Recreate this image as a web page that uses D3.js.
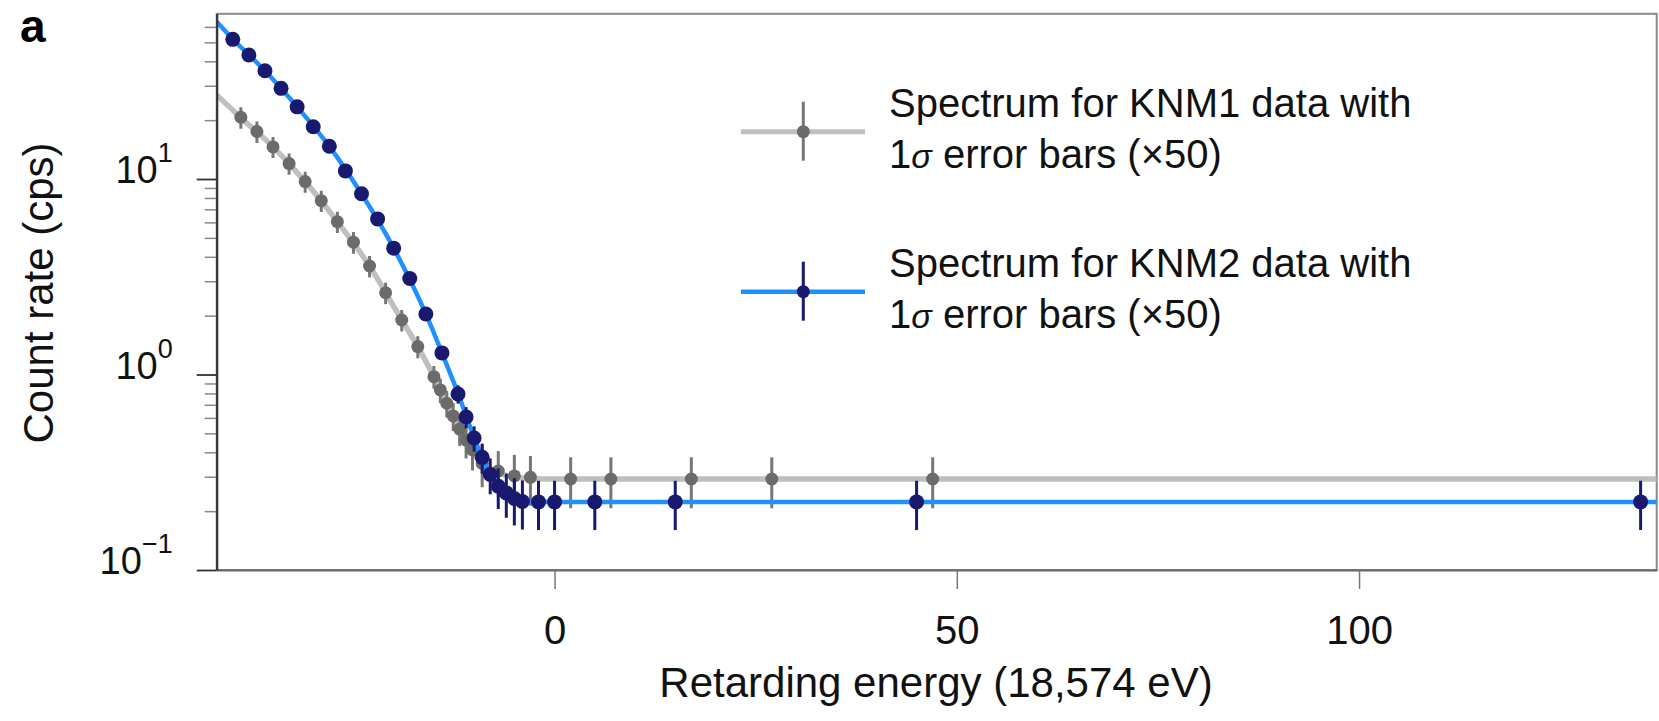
<!DOCTYPE html>
<html>
<head>
<meta charset="utf-8">
<script src="https://cdn.jsdelivr.net/npm/d3@7/dist/d3.min.js"></script>
<style>
  body { margin: 0; background: #fff; }
  svg { display: block; font-family: "Liberation Sans", Arial, Helvetica, sans-serif; }
</style>
</head>
<body>
<div id="ma-figure"></div>
<script>
// --- DONNÉES ---
// KNM1 : énergie de retardement (eV relatif à 18 574 eV), taux (cps), erreur 1 sigma
const knm1Energie = [-39, -37, -35, -33, -31, -29, -27, -25, -23, -21, -19, -17, -15, -14.2, -13.4, -12.6, -11.8, -11, -10.2, -9, -7, -5, -3, 2, 7, 17, 27, 47];
const knm1Taux = [20.7, 17.5, 14.6, 12.0, 9.7, 7.75, 6.05, 4.75, 3.59, 2.62, 1.90, 1.39, 0.975, 0.834, 0.713, 0.614, 0.526, 0.462, 0.411, 0.351, 0.321, 0.303, 0.298, 0.292, 0.292, 0.292, 0.292, 0.292];
const knm1Erreur = [2.6, 2.2, 1.8, 1.5, 1.2, 0.97, 0.76, 0.6, 0.45, 0.33, 0.24, 0.18, 0.13, 0.12, 0.11, 0.1, 0.095, 0.09, 0.088, 0.086, 0.085, 0.085, 0.085, 0.085, 0.085, 0.085, 0.085, 0.085];

// KNM2
const knm2Energie = [-40, -38, -36, -34, -32, -30, -28, -26, -24, -22, -20, -18, -16, -14, -12, -11, -10, -9, -8, -7, -6, -5, -4, -2, 0, 5, 15, 45, 135];
const knm2Taux = [51.8, 43.1, 35.8, 29.1, 23.4, 18.5, 14.7, 11.0, 8.4, 6.25, 4.43, 3.10, 2.04, 1.29, 0.795, 0.606, 0.473, 0.377, 0.308, 0.268, 0.248, 0.232, 0.224, 0.223, 0.223, 0.223, 0.223, 0.223, 0.223];
const knm2Erreur = [1.2, 1.0, 0.85, 0.7, 0.6, 0.5, 0.42, 0.35, 0.3, 0.24, 0.19, 0.15, 0.12, 0.1, 0.085, 0.075, 0.07, 0.066, 0.064, 0.063, 0.063, 0.063, 0.063, 0.063, 0.063, 0.063, 0.063, 0.063, 0.063];

// courbes d'ajustement
const fit1Energie = [-42, -39, -35, -31, -27, -23, -19, -17, -15, -13, -11, -9, -7, -5, -3, 0, 137];
const fit1Taux = [26.9, 20.6, 14.6, 9.7, 6.05, 3.59, 1.90, 1.39, 0.975, 0.66, 0.462, 0.35, 0.315, 0.298, 0.294, 0.292, 0.292];
const fit2Energie = [-42, -40, -36, -32, -28, -24, -20, -16, -14, -12, -10, -8, -6, -4, 0, 137];
const fit2Taux = [63.8, 52.0, 35.8, 23.4, 14.7, 8.4, 4.43, 2.04, 1.29, 0.80, 0.475, 0.305, 0.24, 0.224, 0.223, 0.223];

// graduations
const xTicks = [0, 50, 100];
const yMajeurs = [0.1, 1, 10];
const yExposants = ["\u22121", "0", "1"];
const yMineurs = [0.2, 0.3, 0.4, 0.5, 0.6, 0.7, 0.8, 0.9, 2, 3, 4, 5, 6, 7, 8, 9, 20, 30, 40, 50, 60];

const legendeLignes = [
  ["Spectrum for KNM1 data with", "error bars (\u00d750)"],
  ["Spectrum for KNM2 data with", "error bars (\u00d750)"]
];

// --- CONFIGURATION ---
const largeur = 1659;
const hauteur = 721;
const gauche = 216.7, droite = 1656.7, haut = 13.8, bas = 570;

const couleurs = {
  grisPoint: "#6b6b6b", grisLigne: "#bfbfbf", grisBarre: "#777",
  bleuPoint: "#191970", bleuLigne: "#1e90ff"
};

const svg = d3.select("#ma-figure").append("svg")
  .attr("width", largeur)
  .attr("height", hauteur);

// --- ÉCHELLES ---
const x = d3.scaleLinear().domain([-42, 137]).range([gauche, droite]);
const y = d3.scaleLog().domain([0.1, 70]).range([bas, haut]);

// cadre (haut et droite)
svg.append("rect")
  .attr("x", gauche).attr("y", haut)
  .attr("width", droite - gauche).attr("height", bas - haut)
  .attr("fill", "none").attr("stroke", "#8a8a8a").attr("stroke-width", 2);

svg.append("clipPath").attr("id", "zone")
  .append("rect")
  .attr("x", gauche).attr("y", haut)
  .attr("width", droite - gauche).attr("height", bas - haut);

const trace = svg.append("g").attr("clip-path", "url(#zone)");

const ligne = d3.line()
  .x(d => x(d[0]))
  .y(d => y(d[1]))
  .curve(d3.curveMonotoneX);

// --- SÉRIES ---
function dessinerSerie(energies, taux, erreurs, fitE, fitT, couleurLigne, largeurLigne, couleurPoint, couleurBarre, rayon) {
  trace.append("path")
    .datum(d3.zip(fitE, fitT))
    .attr("d", ligne)
    .attr("fill", "none")
    .attr("stroke", couleurLigne)
    .attr("stroke-width", largeurLigne);

  const pts = d3.zip(energies, taux, erreurs);
  trace.append("g").selectAll("line")
    .data(pts)
    .join("line")
    .attr("x1", d => x(d[0])).attr("x2", d => x(d[0]))
    .attr("y1", d => y(d[1] + d[2]))
    .attr("y2", d => y(Math.max(d[1] - d[2], 0.1)))
    .attr("stroke", couleurBarre)
    .attr("stroke-width", 3);

  trace.append("g").selectAll("circle")
    .data(pts)
    .join("circle")
    .attr("cx", d => x(d[0]))
    .attr("cy", d => y(d[1]))
    .attr("r", rayon)
    .attr("fill", couleurPoint);
}

dessinerSerie(knm1Energie, knm1Taux, knm1Erreur, fit1Energie, fit1Taux,
  couleurs.grisLigne, 5.5, couleurs.grisPoint, couleurs.grisBarre, 6.5);
dessinerSerie(knm2Energie, knm2Taux, knm2Erreur, fit2Energie, fit2Taux,
  couleurs.bleuLigne, 4.5, couleurs.bleuPoint, couleurs.bleuPoint, 7.5);

// --- AXES ---
const axeX = svg.append("g")
  .attr("transform", `translate(0,${bas})`)
  .call(d3.axisBottom(x).tickValues(xTicks).tickSize(19).tickSizeOuter(0).tickPadding(27));
axeX.select(".domain").attr("stroke", "#666").attr("stroke-width", 2);
axeX.selectAll(".tick line").attr("stroke", "#777").attr("stroke-width", 1.5);
axeX.selectAll("text").attr("font-size", 40).attr("fill", "#111")
  .attr("font-family", "Liberation Sans, Arial, sans-serif");

// graduations mineures
const axeYmin = svg.append("g")
  .attr("transform", `translate(${gauche},0)`)
  .call(d3.axisLeft(y).tickValues(yMineurs).tickSize(12).tickFormat(""));
axeYmin.select(".domain").remove();
axeYmin.selectAll(".tick line").attr("stroke", "#888").attr("stroke-width", 1.5);

// graduations majeures avec exposants
const axeY = svg.append("g")
  .attr("transform", `translate(${gauche},0)`)
  .call(d3.axisLeft(y).tickValues(yMajeurs).tickSize(20).tickSizeOuter(0).tickPadding(24));
axeY.select(".domain").attr("stroke", "#333").attr("stroke-width", 2.2);
axeY.selectAll(".tick line").attr("stroke", "#333").attr("stroke-width", 1.8);
axeY.selectAll(".tick text")
  .text(null)
  .attr("dy", "0.36em")
  .attr("fill", "#111")
  .attr("font-family", "Liberation Sans, Arial, sans-serif")
  .each(function(d) {
    const t = d3.select(this);
    t.append("tspan").attr("font-size", 38).text("10");
    t.append("tspan").attr("font-size", 27).attr("dy", -21).text(yExposants[yMajeurs.indexOf(d)]);
  });

// titres des axes
svg.append("text")
  .attr("x", 936).attr("y", 697)
  .attr("text-anchor", "middle")
  .attr("font-size", 42).attr("fill", "#111")
  .text("Retarding energy (18,574 eV)");

svg.append("text")
  .attr("transform", "translate(53,293) rotate(-90)")
  .attr("text-anchor", "middle")
  .attr("font-size", 42).attr("fill", "#111")
  .text("Count rate (cps)");

// lettre du panneau
svg.append("text")
  .attr("x", 20).attr("y", 42)
  .attr("font-size", 46).attr("font-weight", "bold")
  .text("a");

// --- LÉGENDE ---
const legendes = [
  { yc: 131.7, ligne: couleurs.grisLigne, lw: 5, point: couleurs.grisPoint, barre: couleurs.grisBarre },
  { yc: 291.7, ligne: couleurs.bleuLigne, lw: 4.5, point: couleurs.bleuPoint, barre: couleurs.bleuPoint }
];
legendes.forEach((l, i) => {
  const g = svg.append("g");
  g.append("line").attr("x1", 741).attr("x2", 865).attr("y1", l.yc).attr("y2", l.yc)
    .attr("stroke", l.ligne).attr("stroke-width", l.lw);
  g.append("line").attr("x1", 803.3).attr("x2", 803.3).attr("y1", l.yc - 30).attr("y2", l.yc + 29)
    .attr("stroke", l.barre).attr("stroke-width", 3);
  g.append("circle").attr("cx", 803.3).attr("cy", l.yc).attr("r", 6.5).attr("fill", l.point);

  g.append("text").attr("x", 889).attr("y", l.yc - 15)
    .attr("font-size", 40).attr("fill", "#111")
    .text(legendeLignes[i][0]);
  const t2 = g.append("text").attr("x", 889).attr("y", l.yc + 36)
    .attr("font-size", 40).attr("fill", "#111");
  t2.append("tspan").text("1");
  t2.append("tspan").attr("font-style", "italic").attr("font-size", 34).text("\u03c3");
  t2.append("tspan").text(" " + legendeLignes[i][1]);
});
</script>
</body>
</html>
